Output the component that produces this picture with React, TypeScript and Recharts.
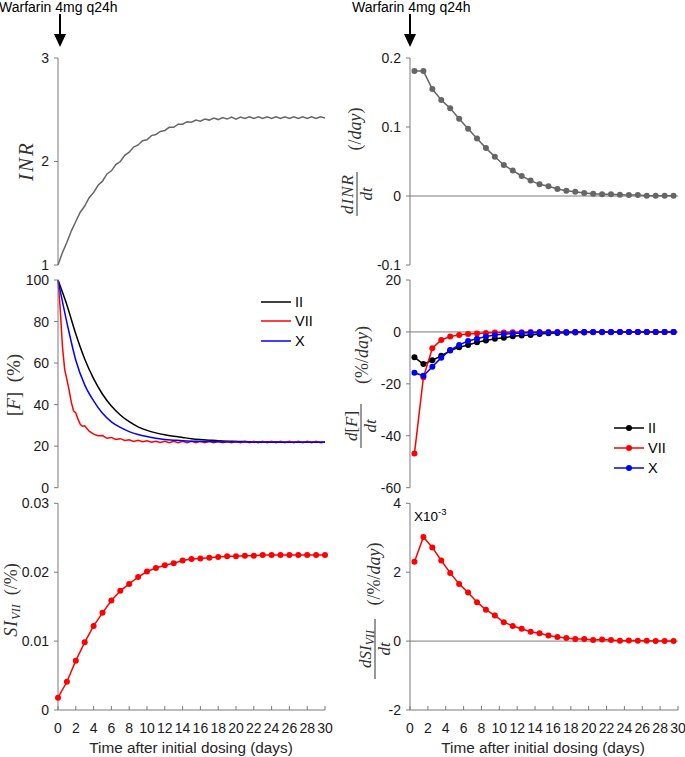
import React from 'react';
import { LineChart, Line, XAxis, YAxis, ReferenceLine } from 'recharts';

// time grids (days)
const HALF_DAYS = Array.from({ length: 61 }, (_, i) => i / 2);
const DAYS = Array.from({ length: 31 }, (_, i) => i);
const MID_DAYS = Array.from({ length: 30 }, (_, i) => i + 0.5);
const X_TICKS = [0, 2, 4, 6, 8, 10, 12, 14, 16, 18, 20, 22, 24, 26, 28, 30];

// INR, sampled every half day
const INR = [
  1.0, 1.12, 1.22, 1.33, 1.42, 1.51, 1.57, 1.65, 1.7, 1.77, 1.81, 1.88, 1.91, 1.97, 2.0, 2.06,
  2.09, 2.14, 2.16, 2.2, 2.21, 2.25, 2.26, 2.29, 2.3, 2.33, 2.33, 2.36, 2.36, 2.385, 2.38, 2.4,
  2.39, 2.41, 2.4, 2.42, 2.405, 2.425, 2.41, 2.43, 2.41, 2.43, 2.415, 2.432, 2.415, 2.432, 2.415, 2.432,
  2.415, 2.432, 2.415, 2.432, 2.415, 2.432, 2.415, 2.432, 2.415, 2.432, 2.415, 2.432, 2.42,
];

// factor levels (%)
const F_II = [
  100, 88, 74, 62, 52.5, 45, 39.3, 35, 31.8, 29.3, 27.6, 26.4, 25.5, 24.8, 24.2, 23.6,
  23.2, 22.9, 22.6, 22.4, 22.3, 22.2, 22.1, 22.0, 22.0, 21.9, 21.9, 21.9, 21.9, 21.9, 21.9,
];
const F_X = [
  100, 79.5, 61.4, 49.5, 41.8, 35.8, 31.7, 29.0, 27.0, 25.6, 24.6, 23.8, 23.2, 22.9, 22.6, 22.4,
  22.3, 22.2, 22.1, 22.0, 22.0, 22.0, 21.9, 21.9, 21.9, 21.9, 21.9, 21.9, 21.9, 21.9, 21.9,
];
const F_VII_T = [
  0, 0.25, 0.5, 0.75, 1, 1.25, 1.5, 1.75, 2, 2.25, 2.5, 2.75, 3, 3.5, 4, 4.5, 5, 5.5, 6, 6.5, 7, 7.5,
  8, 8.5, 9, 9.5, 10, 10.5, 11, 11.5, 12, 12.5, 13, 13.5, 14, 14.5, 15, 15.5, 16, 16.5, 17, 17.5,
  18, 18.5, 19, 19.5, 20, 20.5, 21, 21.5, 22, 22.5, 23, 23.5, 24, 24.5, 25, 25.5, 26, 26.5, 27, 27.5,
  28, 28.5, 29, 29.5, 30,
];
const F_VII = [
  100, 86, 68, 57, 52, 47, 41, 37, 36, 33, 30.5, 29.6, 29.8, 27.2, 25.8, 25.0, 25.1, 23.8, 24.2, 23.2,
  23.6, 22.7, 23.1, 22.3, 22.8, 22.1, 22.6, 21.9, 22.4, 21.8, 22.3, 21.7, 22.3, 21.7, 22.3, 21.7,
  22.3, 21.7, 22.3, 21.7, 22.3, 21.7, 22.3, 21.7, 22.3, 21.7, 22.3, 21.7, 22.3, 21.7, 22.3, 21.7,
  22.3, 21.7, 22.3, 21.7, 22.3, 21.7, 22.3, 21.7, 22.3, 21.7, 22.3, 21.7, 22.3, 21.7, 22.0,
];

// daily rates, sampled at mid-day
const DINR = [
  0.181, 0.181, 0.155, 0.139, 0.127, 0.112, 0.0976, 0.0835, 0.0694, 0.0568, 0.045, 0.0369, 0.029,
  0.0223, 0.0169, 0.014, 0.0102, 0.0077, 0.0063, 0.0044, 0.0034, 0.0024, 0.0024, 0.0019, 0.0015,
  0.0015, 0.0005, 0.0005, 0.0005, 0.0005,
];
const DF_II = [
  -9.8, -12.4, -10.9, -9.2, -7.2, -5.9, -5.0, -4.0, -3.3, -2.6, -2.2, -1.7, -1.4, -1.2, -0.8, -0.5,
  -0.4, -0.3, -0.2, -0.2, -0.1, -0.1, -0.1, 0, 0, 0, 0, 0, 0, 0,
];
const DF_VII = [
  -46.8, -17.5, -6.3, -3.1, -1.8, -1.2, -0.8, -0.6, -0.4, -0.2, -0.2, -0.1, -0.1, 0, 0, 0, 0, 0, 0,
  0, 0, 0, 0, 0, 0, 0, 0, 0, 0, 0,
];
const DF_X = [
  -15.7, -16.9, -13.4, -9.9, -7.0, -5.0, -3.5, -2.6, -1.8, -1.2, -0.8, -0.6, -0.4, -0.3, -0.2, -0.2,
  -0.1, -0.1, 0, 0, 0, 0, 0, 0, 0, 0, 0, 0, 0, 0,
];

// stability index of VII and its rate (x10^-3)
const SI_VII = [
  0.00179, 0.0041, 0.00716, 0.00982, 0.0122, 0.0141, 0.0159, 0.0173, 0.0183, 0.0193, 0.0201, 0.0206,
  0.021, 0.0213, 0.0217, 0.0219, 0.022, 0.0221, 0.0222, 0.0223, 0.0223, 0.0224, 0.0224, 0.0225,
  0.0225, 0.0225, 0.0225, 0.0225, 0.0225, 0.0225, 0.0225,
];
const DSI_VII = [
  2.3, 3.02, 2.72, 2.34, 1.98, 1.66, 1.41, 1.13, 0.91, 0.74, 0.55, 0.44, 0.36, 0.27, 0.23, 0.16,
  0.12, 0.09, 0.06, 0.06, 0.03, 0.05, 0.03, 0.01, 0.02, 0.01, 0.01, 0, 0, 0,
];

const GRAY = '#666666';
const RED = '#ff0000';
const BLUE = '#0000ff';
const BLACK = '#000000';
const AXIS = '#7a7a7a';
const SANS = "'Liberation Sans', Arial, sans-serif";
const SERIF = "'Liberation Serif', 'Times New Roman', serif";

const inrRows = HALF_DAYS.map((t, i) => ({ t, v: INR[i] }));
const dailyRows = DAYS.map((t, i) => ({ t, ii: F_II[i], x: F_X[i], si: SI_VII[i] }));
const viiRows = F_VII_T.map((t, i) => ({ t, v: F_VII[i] }));
const rateRows = MID_DAYS.map((t, i) => ({
  t,
  inr: DINR[i],
  ii: DF_II[i],
  vii: DF_VII[i],
  x: DF_X[i],
  si: DSI_VII[i],
}));

const tickStyle = { fill: '#1a1a1a', fontSize: 14, fontFamily: SANS };

function xAxis(withTicks: boolean) {
  if (!withTicks) {
    return <XAxis dataKey="t" type="number" domain={[0, 30]} tick={false} tickLine={false} height={0} stroke={AXIS} />;
  }
  return (
    <XAxis
      dataKey="t"
      type="number"
      domain={[0, 30]}
      ticks={X_TICKS}
      interval={0}
      tick={tickStyle}
      tickSize={-4}
      tickMargin={17}
      height={47}
      stroke={AXIS}
    />
  );
}

function yAxis(domain: number[], ticks: number[], width: number) {
  return (
    <YAxis
      type="number"
      domain={domain}
      ticks={ticks}
      interval={0}
      width={width}
      tick={tickStyle}
      tickSize={4}
      tickMargin={5}
      stroke={AXIS}
    />
  );
}

const dot = (c: string) => ({ r: 3, fill: c, stroke: c, strokeWidth: 0 });

function Frac({ cx, cy, fc, bar, num, uc, udy, unit, fs = 17 }: any) {
  return (
    <g transform={`translate(${cx},${cy}) rotate(-90)`} fill="#333" fontFamily={SERIF} fontSize={fs}>
      <text x={fc} y={-4} textAnchor="middle">{num}</text>
      <line x1={fc - bar / 2} x2={fc + bar / 2} y1={0} y2={0} stroke="#333" strokeWidth={1} />
      <text x={fc} y={15} textAnchor="middle" fontStyle="italic">dt</text>
      <text x={uc} y={udy} textAnchor="middle" fontSize={18}>{unit}</text>
    </g>
  );
}

function Overlay() {
  const legendRow = (x: number, y: number, c: string, label: string, withDot: boolean) => (
    <g key={label}>
      <line x1={x} x2={x + 30} y1={y} y2={y} stroke={c} strokeWidth={1.5} />
      {withDot && <circle cx={x + 15} cy={y} r={3} fill={c} />}
      <text x={x + 34} y={y + 5} fontSize={14.5} fontFamily={SANS} fill="#000">{label}</text>
    </g>
  );
  return (
    <svg width={685} height={757} style={{ position: 'absolute', left: 0, top: 0, pointerEvents: 'none' }}>
      {/* dosing annotations */}
      <text x={-1} y={12} fontSize={14} fontFamily={SANS} fill="#000">Warfarin 4mg q24h</text>
      <text x={352} y={12} fontSize={14} fontFamily={SANS} fill="#000">Warfarin 4mg q24h</text>
      {[60, 410].map((x) => (
        <g key={x}>
          <line x1={x} x2={x} y1={14} y2={36} stroke="#000" strokeWidth={2} />
          <polygon points={`${x - 6},34 ${x + 6},34 ${x},47`} fill="#000" />
        </g>
      ))}

      {/* y labels, left column */}
      <g transform="translate(33,161) rotate(-90)" fill="#333" fontFamily={SERIF} fontSize={21}>
        <text textAnchor="middle" fontStyle="italic" letterSpacing={2}>INR</text>
      </g>
      <g transform="translate(20,385) rotate(-90)" fill="#333" fontFamily={SERIF} fontSize={19}>
        <text textAnchor="middle">
          [<tspan fontStyle="italic">F</tspan>]{'\u2002'}(%)
        </text>
      </g>
      <g transform="translate(17,600) rotate(-90)" fill="#333" fontFamily={SERIF} fontSize={18}>
        <text textAnchor="middle">
          <tspan fontStyle="italic" letterSpacing={1}>SI</tspan>
          <tspan fontStyle="italic" fontSize={12} dy={3}>VII</tspan>
          <tspan dy={-3}>{'\u2002'}(/%)</tspan>
        </text>
      </g>

      {/* y labels, right column */}
      <Frac
        cx={357}
        cy={161}
        fc={-33}
        bar={44}
        num={<tspan fontStyle="italic" letterSpacing={1}>dINR</tspan>}
        uc={32}
        udy={4}
        unit={<>(/<tspan fontStyle="italic">day</tspan>)</>}
      />
      <Frac
        cx={361}
        cy={384}
        fc={-42}
        bar={44}
        num={<><tspan fontStyle="italic">d</tspan>[<tspan fontStyle="italic">F</tspan>]</>}
        uc={29}
        udy={7}
        unit={<>(%/<tspan fontStyle="italic">day</tspan>)</>}
      />
      <Frac
        cx={375}
        cy={607}
        fc={-42}
        bar={60}
        num={
          <>
            <tspan fontStyle="italic">dSI</tspan>
            <tspan fontStyle="italic" fontSize={12} dy={3}>VII</tspan>
          </>
        }
        uc={33}
        udy={5}
        unit={<>(/%/<tspan fontStyle="italic">day</tspan>)</>}
      />

      {/* legends */}
      {legendRow(261, 302, BLACK, 'II', false)}
      {legendRow(261, 321, RED, 'VII', false)}
      {legendRow(261, 341, BLUE, 'X', false)}
      {legendRow(614, 428, BLACK, 'II', true)}
      {legendRow(614, 448, RED, 'VII', true)}
      {legendRow(614, 468, BLUE, 'X', true)}

      {/* exponent */}
      <text x={414} y={521} fontSize={13.5} fontFamily={SANS} fill="#000">
        X10<tspan fontSize={9.5} dy={-6}>-3</tspan>
      </text>

      {/* x titles */}
      <text x={191} y={753} textAnchor="middle" fontSize={15.3} fontFamily={SANS} fill="#262626">
        Time after initial dosing (days)
      </text>
      <text x={543} y={753} textAnchor="middle" fontSize={15.3} fontFamily={SANS} fill="#262626">
        Time after initial dosing (days)
      </text>
    </svg>
  );
}

const box = (left: number, top: number, width: number, height: number): React.CSSProperties => ({
  position: 'absolute',
  left,
  top,
  width,
  height,
});

export default function App() {
  return (
    <div style={{ position: 'absolute', left: 0, top: 0, width: 685, height: 757, background: '#fff' }}>
      {/* INR */}
      <div style={box(0, 40, 340, 235)}>
        <LineChart width={340} height={235} data={inrRows} margin={{ top: 18, right: 15, bottom: 10, left: 0 }}>
          {xAxis(false)}
          {yAxis([1, 3], [1, 2, 3], 58)}
          <Line type="linear" dataKey="v" stroke={GRAY} strokeWidth={1.5} dot={false} isAnimationActive={false} />
        </LineChart>
      </div>

      {/* dINR/dt */}
      <div style={box(340, 40, 345, 235)}>
        <LineChart width={345} height={235} data={rateRows} margin={{ top: 18, right: 7, bottom: 10, left: 0 }}>
          {xAxis(false)}
          {yAxis([-0.1, 0.2], [-0.1, 0, 0.1, 0.2], 70)}
          <ReferenceLine y={0} stroke={AXIS} strokeWidth={1} />
          <Line type="linear" dataKey="inr" stroke={GRAY} strokeWidth={1.5} dot={dot(GRAY)} isAnimationActive={false} />
        </LineChart>
      </div>

      {/* [F] */}
      <div style={box(0, 268, 340, 230)}>
        <LineChart width={340} height={230} data={dailyRows} margin={{ top: 12, right: 15, bottom: 10.3, left: 0 }}>
          {xAxis(false)}
          {yAxis([0, 100], [0, 20, 40, 60, 80, 100], 58)}
          <Line type="monotone" dataKey="ii" stroke={BLACK} strokeWidth={1.5} dot={false} isAnimationActive={false} />
          <Line type="linear" data={viiRows} dataKey="v" stroke={RED} strokeWidth={1.5} dot={false} isAnimationActive={false} />
          <Line type="monotone" dataKey="x" stroke={BLUE} strokeWidth={1.5} dot={false} isAnimationActive={false} />
        </LineChart>
      </div>

      {/* d[F]/dt */}
      <div style={box(340, 268, 345, 230)}>
        <LineChart width={345} height={230} data={rateRows} margin={{ top: 12, right: 7, bottom: 10.3, left: 0 }}>
          {xAxis(false)}
          {yAxis([-60, 20], [-60, -40, -20, 0, 20], 70)}
          <ReferenceLine y={0} stroke={AXIS} strokeWidth={1} />
          <Line type="linear" dataKey="ii" stroke={BLACK} strokeWidth={1.5} dot={dot(BLACK)} isAnimationActive={false} />
          <Line type="linear" dataKey="vii" stroke={RED} strokeWidth={1.5} dot={dot(RED)} isAnimationActive={false} />
          <Line type="linear" dataKey="x" stroke={BLUE} strokeWidth={1.5} dot={dot(BLUE)} isAnimationActive={false} />
        </LineChart>
      </div>

      {/* SI_VII */}
      <div style={box(0, 492, 340, 265)}>
        <LineChart width={340} height={265} data={dailyRows} margin={{ top: 11.3, right: 15, bottom: 0, left: 0 }}>
          {xAxis(true)}
          {yAxis([0, 0.03], [0, 0.01, 0.02, 0.03], 58)}
          <Line type="linear" dataKey="si" stroke={RED} strokeWidth={1.5} dot={dot(RED)} isAnimationActive={false} />
        </LineChart>
      </div>

      {/* dSI_VII/dt */}
      <div style={box(340, 492, 345, 265)}>
        <LineChart width={345} height={265} data={rateRows} margin={{ top: 11.3, right: 7, bottom: 0, left: 0 }}>
          {xAxis(true)}
          {yAxis([-2, 4], [-2, 0, 2, 4], 70)}
          <ReferenceLine y={0} stroke={AXIS} strokeWidth={1} />
          <Line type="linear" dataKey="si" stroke={RED} strokeWidth={1.5} dot={dot(RED)} isAnimationActive={false} />
        </LineChart>
      </div>

      <Overlay />
    </div>
  );
}
